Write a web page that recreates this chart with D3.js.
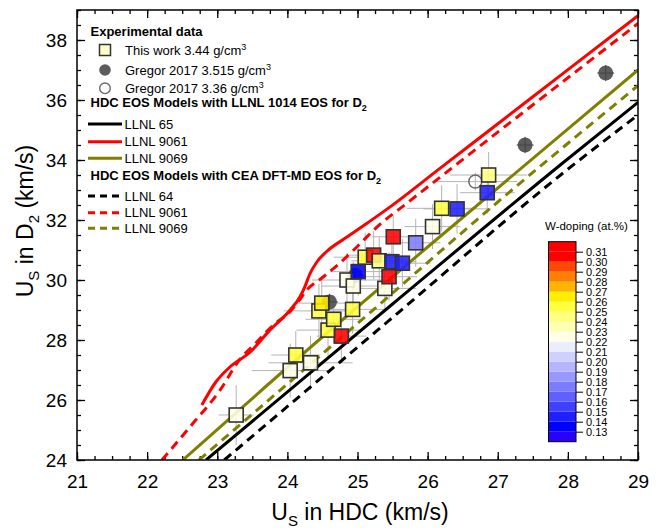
<!DOCTYPE html>
<html lang="en">
<head>
<meta charset="UTF-8">
<title>Us in D2 vs Us in HDC</title>
<script src="https://d3js.org/d3.v7.min.js"></script>
<style>
  html, body { margin:0; padding:0; background:#fff; }
  svg text { font-family:"Liberation Sans", Arial, sans-serif; fill:#000; }
  .axis path { display:none; }
  .axis line { stroke:#000; stroke-width:1.3; }
</style>
</head>
<body>
<div id="chart"></div>
<script>
// this work: shock velocity in HDC, in D2, error bars, W-doping (at.%)
const workHDC   = [23.27,24.04,24.12,24.33,24.45,24.49,24.58,24.66,24.77,24.85,24.93,24.94,25.01,25.11,25.23,25.31,25.39,25.45,25.49,25.51,25.64,25.83,26.07,26.20,26.42,26.85,26.87];
const workD2    = [25.50,26.98,27.50,27.24,28.97,29.23,28.33,28.69,28.13,30.00,29.02,29.80,30.28,30.76,30.83,30.64,29.72,30.11,30.61,31.44,30.56,31.24,31.78,32.39,32.37,32.91,33.50];
const workErrX  = [0.25,0.55,0.35,0.6,0.5,0.4,0.45,0.4,0.35,0.5,0.45,0.45,0.4,0.45,0.35,0.4,0.45,0.4,0.35,0.3,0.4,0.35,0.4,0.5,0.48,0.39,0.55];
const workErrY  = [1.0,0.9,0.8,0.9,0.9,0.9,0.9,0.8,0.8,0.9,0.8,0.8,0.8,0.8,0.8,0.8,0.8,0.8,0.8,0.7,0.8,0.8,0.75,0.77,0.83,0.7,0.77];
const workW     = [0.225,0.225,0.255,0.225,0.255,0.265,0.255,0.255,0.315,0.225,0.255,0.225,0.135,0.255,0.315,0.245,0.225,0.315,0.145,0.315,0.145,0.175,0.225,0.255,0.145,0.145,0.245];

// Gregor 2017
const gregorDenseHDC = [24.60,24.97,27.39,28.54];
const gregorDenseD2  = [29.27,30.15,34.50,36.90];
const gregorLightHDC = [26.68];
const gregorLightD2  = [33.28];

// HDC EOS models, LLNL 1014 EOS for D2
const llnl65   = [[22.84,24.0],[25.5,29.2],[27.9,33.85],[29,35.92]];
const llnl9061 = [[22.78,25.83],[22.98,26.6],[23.18,27.1],[23.47,27.6],[23.75,28.33],[24.04,29.0],[24.18,29.44],[24.25,29.78],[24.32,30.2],[24.42,30.6],[24.56,30.95],[24.85,31.43],[25.14,31.9],[25.46,32.43],[26.18,33.73],[27.03,35.26],[27.9,36.83],[29,38.81]];
const llnl9069 = [[22.51,24.0],[24.4,27.9],[26.0,31.1],[29,37.0]];
// HDC EOS models, CEA DFT-MD EOS for D2
const cea64    = [[23.1,24.0],[25.5,28.75],[27.95,33.6],[29,35.5]];
const cea9061  = [[22.21,24.0],[22.61,25.1],[23.04,26.33],[23.32,27.35],[23.55,27.9],[23.8,28.5],[24.04,28.95],[24.14,29.23],[24.28,29.67],[24.51,30.1],[24.75,30.57],[24.99,31.1],[25.28,31.77],[25.71,32.57],[26.18,33.43],[27.0,34.93],[28.0,36.74],[29,38.55]];
const cea9069  = [[22.74,24.0],[25.0,28.55],[27.0,32.6],[29,36.48]];

// colour bar
const wTicks  = [0.13,0.14,0.15,0.16,0.17,0.18,0.19,0.20,0.21,0.22,0.23,0.24,0.25,0.26,0.27,0.28,0.29,0.30,0.31];
const wColors = ["#2a00ff","#0000ff","#2020ff","#4040ff","#6060ff","#7c7cff","#9898ff","#b4b4ff","#d0d0ff","#ececff",
                 "#ffffe6","#ffffb4","#ffff80","#ffff40","#ffee00","#ffb400","#ff8000","#ff4800","#ff0000","#ff0000"];

const W = 662, H = 529;
const svg = d3.select("#chart").append("svg").attr("width", W).attr("height", H);
const x = d3.scaleLinear().domain([21, 29]).range([77, 638]);
const y = d3.scaleLinear().domain([24, 39]).range([460, 10]);
const wColor = d3.scaleThreshold().domain(wTicks).range(wColors);

svg.append("clipPath").attr("id", "plotClip").append("rect")
  .attr("x", 77).attr("y", 10).attr("width", 561).attr("height", 450);

// axes: ticks point inward on all four sides
function addAxis(axis, tr, vals, size, fmt, cls) {
  svg.append("g").attr("class", "axis " + (cls || "")).attr("transform", tr)
    .call(axis.tickValues(vals).tickSizeInner(-size).tickSizeOuter(0)
      .tickFormat(fmt || (() => "")).tickPadding(15));
}
const xMinor = d3.range(21, 29.001, 0.25), xMajor = d3.range(21, 29.001, 1);
const yMinor = d3.range(24, 39.001, 0.5), yMajor = d3.range(24, 38.001, 2);
addAxis(d3.axisBottom(x), "translate(0,460)", xMinor, 4, null);
addAxis(d3.axisBottom(x), "translate(0,460)", xMajor, 8, d3.format("d"), "xlab");
addAxis(d3.axisTop(x), "translate(0,10)", xMinor, 4, null);
addAxis(d3.axisTop(x), "translate(0,10)", xMajor, 8, null);
addAxis(d3.axisLeft(y), "translate(77,0)", yMinor, 4, null);
addAxis(d3.axisLeft(y), "translate(77,0)", yMajor, 8, d3.format("d"), "ylab");
addAxis(d3.axisRight(y), "translate(638,0)", yMinor, 4, null);
addAxis(d3.axisRight(y), "translate(638,0)", yMajor, 8, null);
svg.selectAll(".xlab text, .ylab text").attr("font-size", 19).style("font-family", "'Liberation Sans', Arial, sans-serif");
svg.selectAll(".ylab text").attr("x", -10);

const plot = svg.append("g").attr("clip-path", "url(#plotClip)");

// error bars of this work
const work = workHDC.map((v, i) => ({x: v, y: workD2[i], ex: workErrX[i], ey: workErrY[i], w: workW[i]}));
const eb = plot.append("g").attr("stroke", "#b4b4b4").attr("stroke-width", 1);
work.forEach(d => {
  eb.append("line").attr("x1", x(d.x - d.ex)).attr("x2", x(d.x + d.ex)).attr("y1", y(d.y)).attr("y2", y(d.y));
  eb.append("line").attr("x1", x(d.x)).attr("x2", x(d.x)).attr("y1", y(d.y - d.ey)).attr("y2", y(d.y + d.ey));
});
// open circle error bars
gregorLightHDC.forEach((v, i) => {
  eb.append("line").attr("x1", x(v - 0.6)).attr("x2", x(v + 0.6)).attr("y1", y(gregorLightD2[i])).attr("y2", y(gregorLightD2[i]));
  eb.append("line").attr("x1", x(v)).attr("x2", x(v)).attr("y1", y(gregorLightD2[i] - 0.3)).attr("y2", y(gregorLightD2[i] + 0.3));
});

// model curves
const line = d3.line().x(d => x(d[0])).y(d => y(d[1])).curve(d3.curveMonotoneX);
const models = [
  {d: llnl65, c: "#000000", dash: null},
  {d: llnl9061, c: "#ff0000", dash: null},
  {d: llnl9069, c: "#808000", dash: null},
  {d: cea64, c: "#000000", dash: "9,6"},
  {d: cea9061, c: "#ff0000", dash: "9,6"},
  {d: cea9069, c: "#808000", dash: "9,6"}
];
models.forEach(m => {
  plot.append("path").datum(m.d).attr("d", line).attr("fill", "none")
    .attr("stroke", m.c).attr("stroke-width", 3).attr("stroke-dasharray", m.dash);
});

// Gregor points
gregorDenseHDC.forEach((v, i) => {
  plot.append("circle").attr("cx", x(v)).attr("cy", y(gregorDenseD2[i])).attr("r", 7.5).attr("fill", "#5c5c5c");
  plot.append("line").attr("x1", x(v - 0.12)).attr("x2", x(v + 0.12)).attr("y1", y(gregorDenseD2[i])).attr("y2", y(gregorDenseD2[i])).attr("stroke", "#444").attr("stroke-width", 1);
  plot.append("line").attr("x1", x(v)).attr("x2", x(v)).attr("y1", y(gregorDenseD2[i] - 0.27)).attr("y2", y(gregorDenseD2[i] + 0.27)).attr("stroke", "#444").attr("stroke-width", 1);
});
gregorLightHDC.forEach((v, i) => {
  plot.append("circle").attr("cx", x(v)).attr("cy", y(gregorLightD2[i])).attr("r", 6.5)
    .attr("fill", "none").attr("stroke", "#6a6a6a").attr("stroke-width", 1.5);
});

// squares, coloured by W-doping
const sq = 14;
plot.selectAll("rect.work").data(work).join("rect").attr("class", "work")
  .attr("x", d => x(d.x) - sq / 2).attr("y", d => y(d.y) - sq / 2)
  .attr("width", sq).attr("height", sq)
  .attr("fill", d => wColor(d.w)).attr("fill-opacity", 0.88)
  .attr("stroke", "#333").attr("stroke-width", 1.6);

// frame
svg.append("rect").attr("x", 77).attr("y", 10).attr("width", 561).attr("height", 450)
  .attr("fill", "none").attr("stroke", "#000").attr("stroke-width", 1.5);

// axis titles
const xt = svg.append("text").attr("x", 360).attr("y", 520).attr("text-anchor", "middle").attr("font-size", 23);
xt.append("tspan").text("U");
xt.append("tspan").attr("font-size", 15).attr("dy", 6).text("S");
xt.append("tspan").attr("dy", -6).text(" in HDC (km/s)");
const yt = svg.append("text").attr("transform", "translate(33,221) rotate(-90)").attr("text-anchor", "middle").attr("font-size", 23);
yt.append("tspan").text("U");
yt.append("tspan").attr("font-size", 15).attr("dy", 6).text("S");
yt.append("tspan").attr("dy", -6).text(" in D");
yt.append("tspan").attr("font-size", 15).attr("dy", 6).text("2");
yt.append("tspan").attr("dy", -6).text(" (km/s)");

// legend
const lg = svg.append("g").attr("font-size", 13);
function header(txt, yb, sub) {
  const t = lg.append("text").attr("x", 90.5).attr("y", yb).attr("font-weight", "bold").text(txt);
  if (sub) {
    t.append("tspan").attr("font-size", 9).attr("dy", 4).text(sub);
  }
}
function label(txt, yb, sup) {
  const t = lg.append("text").attr("x", 125).attr("y", yb).text(txt);
  if (sup) t.append("tspan").attr("font-size", 9).attr("dy", -5).text(sup);
}
header("Experimental data", 36);
lg.append("rect").attr("x", 99.5).attr("y", 44.5).attr("width", 11).attr("height", 11)
  .attr("fill", "#ffffcc").attr("stroke", "#333").attr("stroke-width", 1.5);
label("This work 3.44 g/cm", 54.5, "3");
lg.append("circle").attr("cx", 105).attr("cy", 70).attr("r", 5.8).attr("fill", "#5c5c5c");
label("Gregor 2017 3.515 g/cm", 74.5, "3");
lg.append("circle").attr("cx", 105).attr("cy", 88.3).attr("r", 5.3).attr("fill", "none").attr("stroke", "#6a6a6a").attr("stroke-width", 1.4);
label("Gregor 2017 3.36 g/cm", 92.5, "3");
header("HDC EOS Models with LLNL 1014 EOS for D", 106.5, "2");
const legLines = [
  {t: "LLNL 65", c: "#000000", dash: null, y: 124},
  {t: "LLNL 9061", c: "#ff0000", dash: null, y: 141.7},
  {t: "LLNL 9069", c: "#808000", dash: null, y: 158.3},
  {t: "LLNL 64", c: "#000000", dash: "7,5", y: 196},
  {t: "LLNL 9061", c: "#ff0000", dash: "7,5", y: 212.7},
  {t: "LLNL 9069", c: "#808000", dash: "7,5", y: 228.3}
];
header("HDC EOS Models with CEA DFT-MD EOS for D", 180, "2");
legLines.forEach(l => {
  lg.append("line").attr("x1", 88).attr("x2", 122).attr("y1", l.y).attr("y2", l.y)
    .attr("stroke", l.c).attr("stroke-width", 3).attr("stroke-dasharray", l.dash);
  lg.append("text").attr("x", 124.5).attr("y", l.y + 4.7).text(l.t);
});

// colour bar
const cb = d3.scaleLinear().domain([0.13, 0.31]).range([431.7, 251.7]);
const cbg = svg.append("g");
wColors.forEach((c, i) => {
  const lo = 0.12 + i * 0.01, hi = lo + 0.01;
  cbg.append("rect").attr("x", 548.5).attr("width", 27.5)
    .attr("y", cb(hi)).attr("height", cb(lo) - cb(hi)).attr("fill", c);
});
cbg.append("rect").attr("x", 548.5).attr("y", cb(0.32)).attr("width", 27.5).attr("height", cb(0.12) - cb(0.32))
  .attr("fill", "none").attr("stroke", "#000").attr("stroke-width", 1);
cbg.append("g").attr("transform", "translate(576,0)")
  .call(d3.axisRight(cb).tickValues(wTicks).tickSize(7).tickPadding(3).tickFormat(d3.format(".2f")))
  .call(g => g.select(".domain").remove())
  .call(g => g.selectAll("line").attr("stroke", "#000"))
  .call(g => g.selectAll("text").attr("font-size", 11).attr("dy", "0.34em").style("font-family", "'Liberation Sans', Arial, sans-serif"));
cbg.append("text").attr("x", 545).attr("y", 230).attr("font-size", 11.5).text("W-doping (at.%)");
</script>
</body>
</html>
